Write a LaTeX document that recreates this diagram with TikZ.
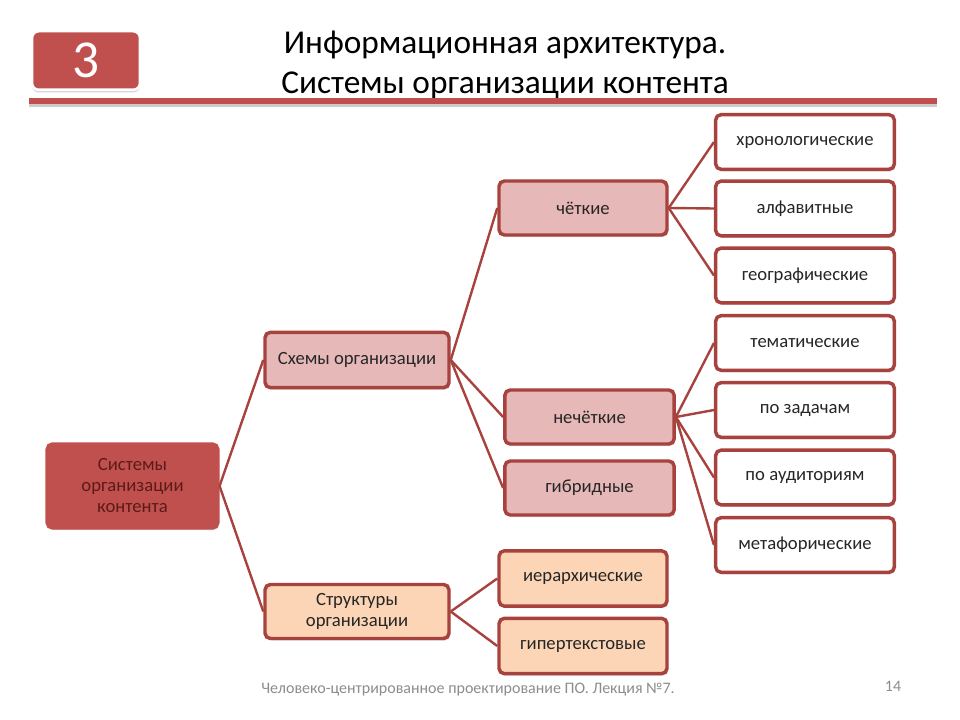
\documentclass[tikz,border=0pt]{standalone}
\usepackage{fontspec}
\setmainfont{Carlito}
\usetikzlibrary{shadows}
\definecolor{boxred}{RGB}{192,80,77}
\definecolor{boxline}{RGB}{168,66,62}
\definecolor{boxpink}{RGB}{230,185,184}
\definecolor{boxpeach}{RGB}{251,213,181}
\definecolor{roottext}{RGB}{92,27,25}
\definecolor{foottext}{RGB}{140,140,140}
\begin{document}
\begin{tikzpicture}[x=0.75pt, y=-0.75pt,
  card/.style={draw=boxline, line width=2.6pt, rounded corners=4pt, inner sep=0pt, align=center, text=black!85,
    font=\fontsize{14}{16}\selectfont, drop shadow={shadow xshift=1pt, shadow yshift=-1.5pt, opacity=0.3}},
  leaf/.style={card, fill=white, minimum width=134pt, minimum height=41pt},
  mid/.style={card, fill=boxpink, minimum width=126pt, minimum height=40.5pt},
  link/.style={draw=boxline, line width=1.8pt}]
\useasboundingbox (0,0) rectangle (960,720);
\node[draw=white, line width=2pt, fill=boxred, rounded corners=5pt, minimum width=81pt, minimum height=44pt, text=white,
  font=\fontsize{40}{42}\selectfont, drop shadow={shadow xshift=0pt, shadow yshift=-2pt, opacity=0.35}] (badge) at (86,60.5){3};
\node[align=center, font=\fontsize{25}{29.5}\selectfont] (title) at (505,65){Информационная архитектура.\\Системы организации контента};
\draw[line width=4.5pt, black!20] (29,104) -- (937,104);
\draw[line width=4.5pt, boxred] (29,101) -- (937,101);
\node[card, draw=boxred, fill=boxred, text=roottext, minimum width=128pt, minimum height=63pt, font=\fontsize{14}{15.75}\selectfont] (bx0) at (132.5,486){Системы\\организации\\контента};
\node[card, fill=boxpink, minimum width=138pt, minimum height=41.5pt] (bx1) at (357,360){Схемы организации};
\node[card, fill=boxpeach, minimum width=138pt, minimum height=40.5pt, font=\fontsize{14}{15.75}\selectfont] (bx2) at (357,611.5){Структуры\\организации};
\draw[link](bx0.east) -- (bx1.west);
\draw[link](bx0.east) -- (bx2.west);
\node[mid] (bx3) at (583,208){чёткие};
\node[mid, minimum width=127pt] (bx4) at (589.5,417){нечёткие};
\node[mid, minimum width=127pt] (bx5) at (589.5,488){гибридные};
\draw[link](bx1.east) -- (bx3.west);
\draw[link](bx1.east) -- (bx4.west);
\draw[link](bx1.east) -- (bx5.west);
\node[leaf] (bx6) at (805,142){хронологические};
\node[leaf] (bx7) at (805,208.5){алфавитные};
\node[leaf] (bx8) at (805,275.5){географические};
\draw[link](bx3.east) -- (bx6.west);
\draw[link](bx3.east) -- (bx7.west);
\draw[link](bx3.east) -- (bx8.west);
\node[leaf] (bx9) at (805,343){тематические};
\node[leaf] (bx10) at (805,410){по задачам};
\node[leaf] (bx11) at (805,477.5){по аудиториям};
\node[leaf] (bx12) at (805,545){метафорические};
\draw[link](bx4.east) -- (bx9.west);
\draw[link](bx4.east) -- (bx10.west);
\draw[link](bx4.east) -- (bx11.west);
\draw[link](bx4.east) -- (bx12.west);
\node[mid, fill=boxpeach, minimum height=41.5pt] (bx13) at (583,578.5){иерархические};
\node[mid, fill=boxpeach, minimum height=41.5pt] (bx14) at (583,646){гипертекстовые};
\draw[link](bx2.east) -- (bx13.west);
\draw[link](bx2.east) -- (bx14.west);
\node[text=foottext, font=\fontsize{12}{14}\selectfont] (foot) at (468,690){Человеко-центрированное проектирование ПО. Лекция №7.};
\node[text=foottext, font=\fontsize{12}{14}\selectfont] (page) at (893,686){14};
\end{tikzpicture}
\end{document}
